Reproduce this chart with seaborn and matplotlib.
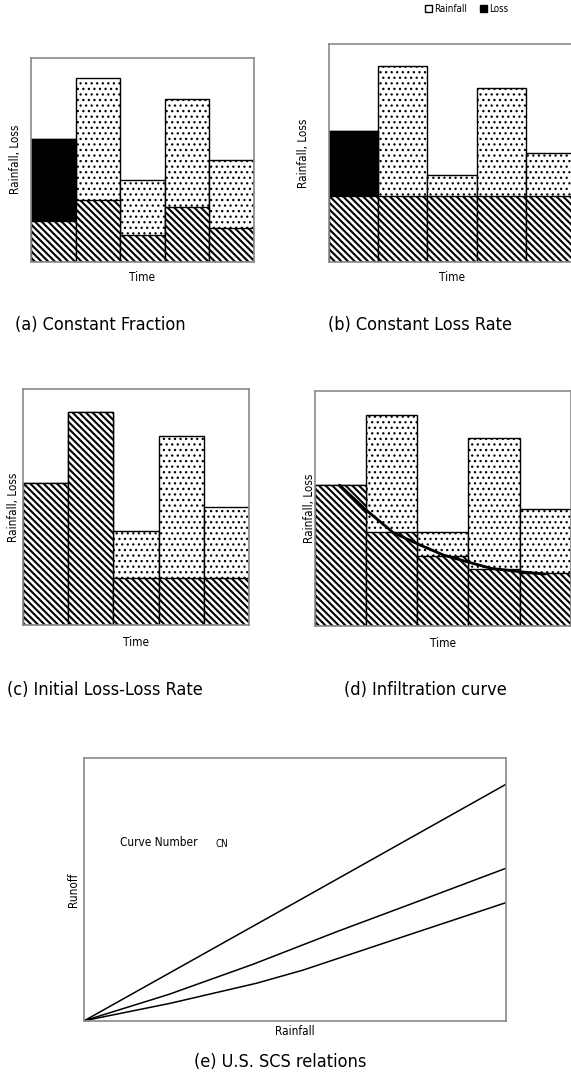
import matplotlib
matplotlib.use("Agg")
import matplotlib.pyplot as plt
from matplotlib.patches import Patch
import seaborn as sns

# ---- data -------------------------------------------------------------
periods = [1, 2, 3, 4, 5]
rainfall = [6.0, 9.0, 4.0, 8.0, 5.0]

# (a) constant fraction of rainfall lost
loss_a = [2.0, 3.0, 1.33, 2.67, 1.67]
# (b) constant loss rate
loss_b = [3.0, 3.0, 3.0, 3.0, 3.0]
# first period drawn solid in (a) and (b)
solid_first = [6.0, 0.0, 0.0, 0.0, 0.0]
# (c) initial loss, then constant rate
loss_c = [6.0, 9.0, 2.0, 2.0, 2.0]
# (d) infiltration capacity curve
loss_d = [6.0, 4.0, 3.0, 2.45, 2.25]
curve_t = [0.98, 1.5, 2.03, 2.55, 3.01, 3.46, 3.95, 4.51, 5.0]
curve_f = [6.0, 4.94, 3.98, 3.46, 3.03, 2.75, 2.46, 2.32, 2.22]

# (e) SCS rainfall-runoff relations for three curve numbers
scs_p_high = [0, 50, 100]
scs_q_high = [0, 45.0, 90.1]
scs_p_mid = [0, 20, 40, 60, 80, 100]
scs_q_mid = [0, 10.0, 21.5, 34.0, 46.0, 58.1]
scs_p_low = [0, 20.3, 40.9, 51.9, 75.6, 100]
scs_q_low = [0, 6.6, 14.3, 19.3, 32.0, 45.0]

titles = ["(a) Constant Fraction", "(b) Constant Loss Rate",
          "(c) Initial Loss-Loss Rate", "(d) Infiltration curve",
          "(e) U.S. SCS relations"]

# ---- style ------------------------------------------------------------
sns.set_theme(style="white")
plt.rcParams["font.family"] = ["DejaVu Sans"]
plt.rcParams["font.stretch"] = "condensed"
plt.rcParams["text.color"] = "black"
plt.rcParams["axes.labelcolor"] = "black"

W, H = 571, 1083
fig = plt.figure(figsize=(W / 100, H / 100), dpi=100)
fig.patch.set_facecolor("white")


def px_axes(left, top, right, bottom):
    return fig.add_axes([left / W, 1 - bottom / H, (right - left) / W, (bottom - top) / H])


def frame(ax):
    ax.set_xticks([])
    ax.set_yticks([])
    for s in ax.spines.values():
        s.set_color("#8a8a8a")
        s.set_linewidth(1.2)
        s.set_visible(True)


DOTS = "..."
STRIPES = "\\\\\\\\\\"
DOT_LW = 0.9
STRIPE_LW = 1.5
bar_kw = dict(native_scale=True, width=1, edgecolor="black", linewidth=1.0,
              errorbar=None, saturation=1)


def bars(ax, values, hatch=None, color="white", hatch_lw=1.0):
    plt.rcParams["hatch.linewidth"] = hatch_lw
    n_before = len(ax.patches)
    sns.barplot(x=periods, y=values, color=color, hatch=hatch, ax=ax, **bar_kw)
    for p in ax.patches[n_before:]:
        if hasattr(p, "set_hatch_linewidth"):
            p.set_hatch_linewidth(hatch_lw)


def bar_panel(ax, loss, solid=None):
    bars(ax, rainfall, DOTS, hatch_lw=DOT_LW)
    if solid is not None:
        bars(ax, solid, None, color="black")
    bars(ax, loss, STRIPES, hatch_lw=STRIPE_LW)
    ax.set_xlim(0.5, 5.5)
    ax.set_ylim(0, 10)
    ax.set_xlabel("")
    ax.set_ylabel("")
    frame(ax)


lab_fs = 8.5

# (a)
ax_a = px_axes(31, 57.7, 254, 261.7)
bar_panel(ax_a, loss_a, solid_first)
# (b)
ax_b = px_axes(329, 44.3, 575, 261.7)
bar_panel(ax_b, loss_b, solid_first)
# (c)
ax_c = px_axes(22.6, 388.8, 249.3, 625.3)
bar_panel(ax_c, loss_c)
# (d)
ax_d = px_axes(315, 391, 570.7, 626.3)
bar_panel(ax_d, loss_d)
sns.lineplot(x=curve_t, y=curve_f, color="black", linewidth=2.0, ax=ax_d)
ax_d.set_xlim(0.5, 5.5)
ax_d.set_ylim(0, 10)

for ax in (ax_a, ax_b, ax_c, ax_d):
    ax.text(0.5, -0.045, "Time", transform=ax.transAxes, ha="center", va="top",
            fontsize=lab_fs, clip_on=False)

ylab_x = {ax_a: 16, ax_b: 303, ax_c: 14, ax_d: 310}
for ax, xp in ylab_x.items():
    bb = ax.get_position()
    ax.text((xp / W - bb.x0) / bb.width, 0.5, "Rainfall, Loss", transform=ax.transAxes,
            rotation=90, ha="center", va="center", fontsize=lab_fs,
            clip_on=False, zorder=0.5)

# (e)
ax_e = px_axes(84.3, 758.3, 506, 1020.7)
for p, q in ((scs_p_high, scs_q_high), (scs_p_mid, scs_q_mid), (scs_p_low, scs_q_low)):
    sns.lineplot(x=p, y=q, color="black", linewidth=1.1, ax=ax_e)
ax_e.set_xlim(0, 100)
ax_e.set_ylim(0, 100)
frame(ax_e)
ax_e.set_xlabel("Rainfall", fontsize=lab_fs, labelpad=3)
ax_e.set_ylabel("Runoff", fontsize=lab_fs, labelpad=3)
ax_e.text(0.085, 0.68, "Curve Number", transform=ax_e.transAxes, ha="left",
          va="center", fontsize=lab_fs)
ax_e.text(0.31, 0.675, "CN", transform=ax_e.transAxes, ha="left",
          va="center", fontsize=7)

# panel captions
cap_pos = [(100, 325), (420, 325), (105, 690), (425, 690), (280, 1062)]
for t, (x, y) in zip(titles, cap_pos):
    fig.text(x / W, 1 - y / H, t, ha="center", va="center", fontsize=13)

# legend
plt.rcParams["hatch.linewidth"] = 1.0
handles = [Patch(facecolor="white", edgecolor="black", hatch=".", linewidth=1.0),
           Patch(facecolor="black", edgecolor="black", linewidth=1.0)]
fig.legend(handles, ["Rainfall", "Loss"], loc="center left",
           bbox_to_anchor=(425 / W, 1 - 9 / H), ncol=2, frameon=False,
           fontsize=7, handlelength=0.7, handleheight=0.7, handletextpad=0.2,
           columnspacing=1.4, borderpad=0, borderaxespad=0)

fig.savefig("out.png", dpi=100, facecolor="white")
